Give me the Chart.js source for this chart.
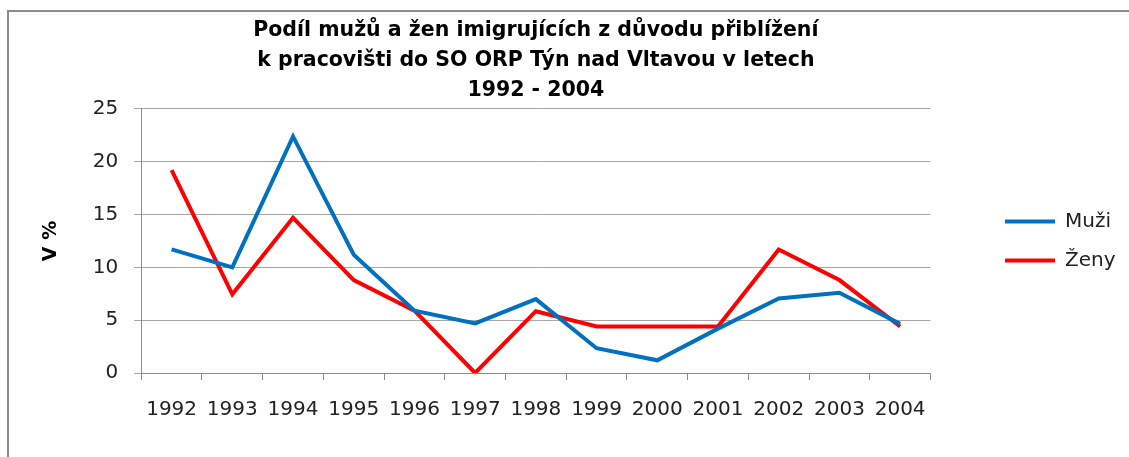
<!DOCTYPE html>
<html>
<head>
<meta charset="utf-8">
<script src="https://cdn.jsdelivr.net/npm/chart.js@4"></script>
<style>
  html, body { margin: 0; padding: 0; background: #fff; overflow: hidden; }
  .frame { position: absolute; left: 7px; top: 10px; width: 1200px; height: 500px;
           border-left: 2px solid #8c8c8c; border-top: 2px solid #8c8c8c; }
  .wrap { position: absolute; left: 0; top: 0; width: 1129px; height: 457px; }
</style>
</head>
<body>
<div class="frame"></div>
<div class="wrap"><canvas id="myChart"></canvas></div>
<script>
var years = ['1992', '1993', '1994', '1995', '1996', '1997', '1998', '1999', '2000', '2001', '2002', '2003', '2004'];
var muzi = [11.7, 10.0, 22.4, 11.2, 5.9, 4.7, 7.0, 2.35, 1.2, 4.2, 7.05, 7.6, 4.65];
var zeny = [19.2, 7.45, 14.7, 8.8, 5.9, 0, 5.85, 4.4, 4.4, 4.4, 11.7, 8.8, 4.4];
var yTicks = [0, 5, 10, 15, 20, 25];

var titleLines = ['Podíl mužů a žen imigrujících z důvodu přiblížení',
                  'k pracovišti do SO ORP Týn nad Vltavou v letech',
                  '1992 - 2004'];

// move the legend away from the plot, like in the original
var legendShift = {
    id: 'legendShift',
    afterLayout: function(chart) {
        var l = chart.legend;
        var w = l.width;
        l.left = 1005 - l.options.labels.padding;
        l.right = l.left + w;
    }
};

var ctx = document.getElementById('myChart').getContext('2d');

var myChart = new Chart(ctx, {
    type: 'line',
    data: {
        labels: years,
        datasets: [
            {
                label: 'Muži',
                data: muzi,
                borderColor: '#0070C0',
                backgroundColor: '#0070C0',
                borderWidth: 4,
                pointRadius: 0,
                tension: 0,
                fill: false
            },
            {
                label: 'Ženy',
                data: zeny,
                borderColor: '#FF0000',
                backgroundColor: '#FF0000',
                borderWidth: 4,
                pointRadius: 0,
                tension: 0,
                fill: false
            }
        ]
    },
    options: {
        responsive: true,
        maintainAspectRatio: false,
        animation: false,
        layout: { padding: { left: 30, top: 16, right: 59, bottom: 17 } },
        plugins: {
            title: {
                display: true,
                fullSize: false,
                text: titleLines,
                color: '#000',
                font: { family: 'DejaVu Sans', size: 20.5, weight: 'bold', lineHeight: 1.463 },
                padding: { top: 0, bottom: 3 }
            },
            legend: {
                position: 'right',
                fullSize: false,
                labels: {
                    usePointStyle: true,
                    pointStyle: 'line',
                    pointStyleWidth: 50,
                    color: '#222',
                    padding: 19,
                    font: { family: 'DejaVu Sans', size: 20 }
                }
            },
            tooltip: { enabled: false }
        },
        scales: {
            x: {
                offset: true,
                grid: { offset: true, drawOnChartArea: false, tickLength: 7, color: '#8c8c8c' },
                border: { color: '#8c8c8c', width: 1 },
                ticks: {
                    color: '#222', padding: 18, maxRotation: 0, autoSkip: false,
                    font: { family: 'DejaVu Sans', size: 20 }
                }
            },
            y: {
                min: 0,
                max: 25,
                afterBuildTicks: function(scale) {
                    scale.ticks = yTicks.map(function(v) { return { value: v }; });
                },
                grid: { color: '#a6a6a6', tickLength: 7 },
                border: { color: '#8c8c8c', width: 1 },
                ticks: {
                    color: '#222', padding: 16,
                    font: { family: 'DejaVu Sans', size: 20 }
                },
                title: {
                    display: true,
                    text: 'V %',
                    color: '#000',
                    font: { family: 'DejaVu Sans', size: 19, weight: 'bold' },
                    padding: { top: 10, bottom: 14 }
                }
            }
        }
    },
    plugins: [legendShift]
});
</script>
</body>
</html>
